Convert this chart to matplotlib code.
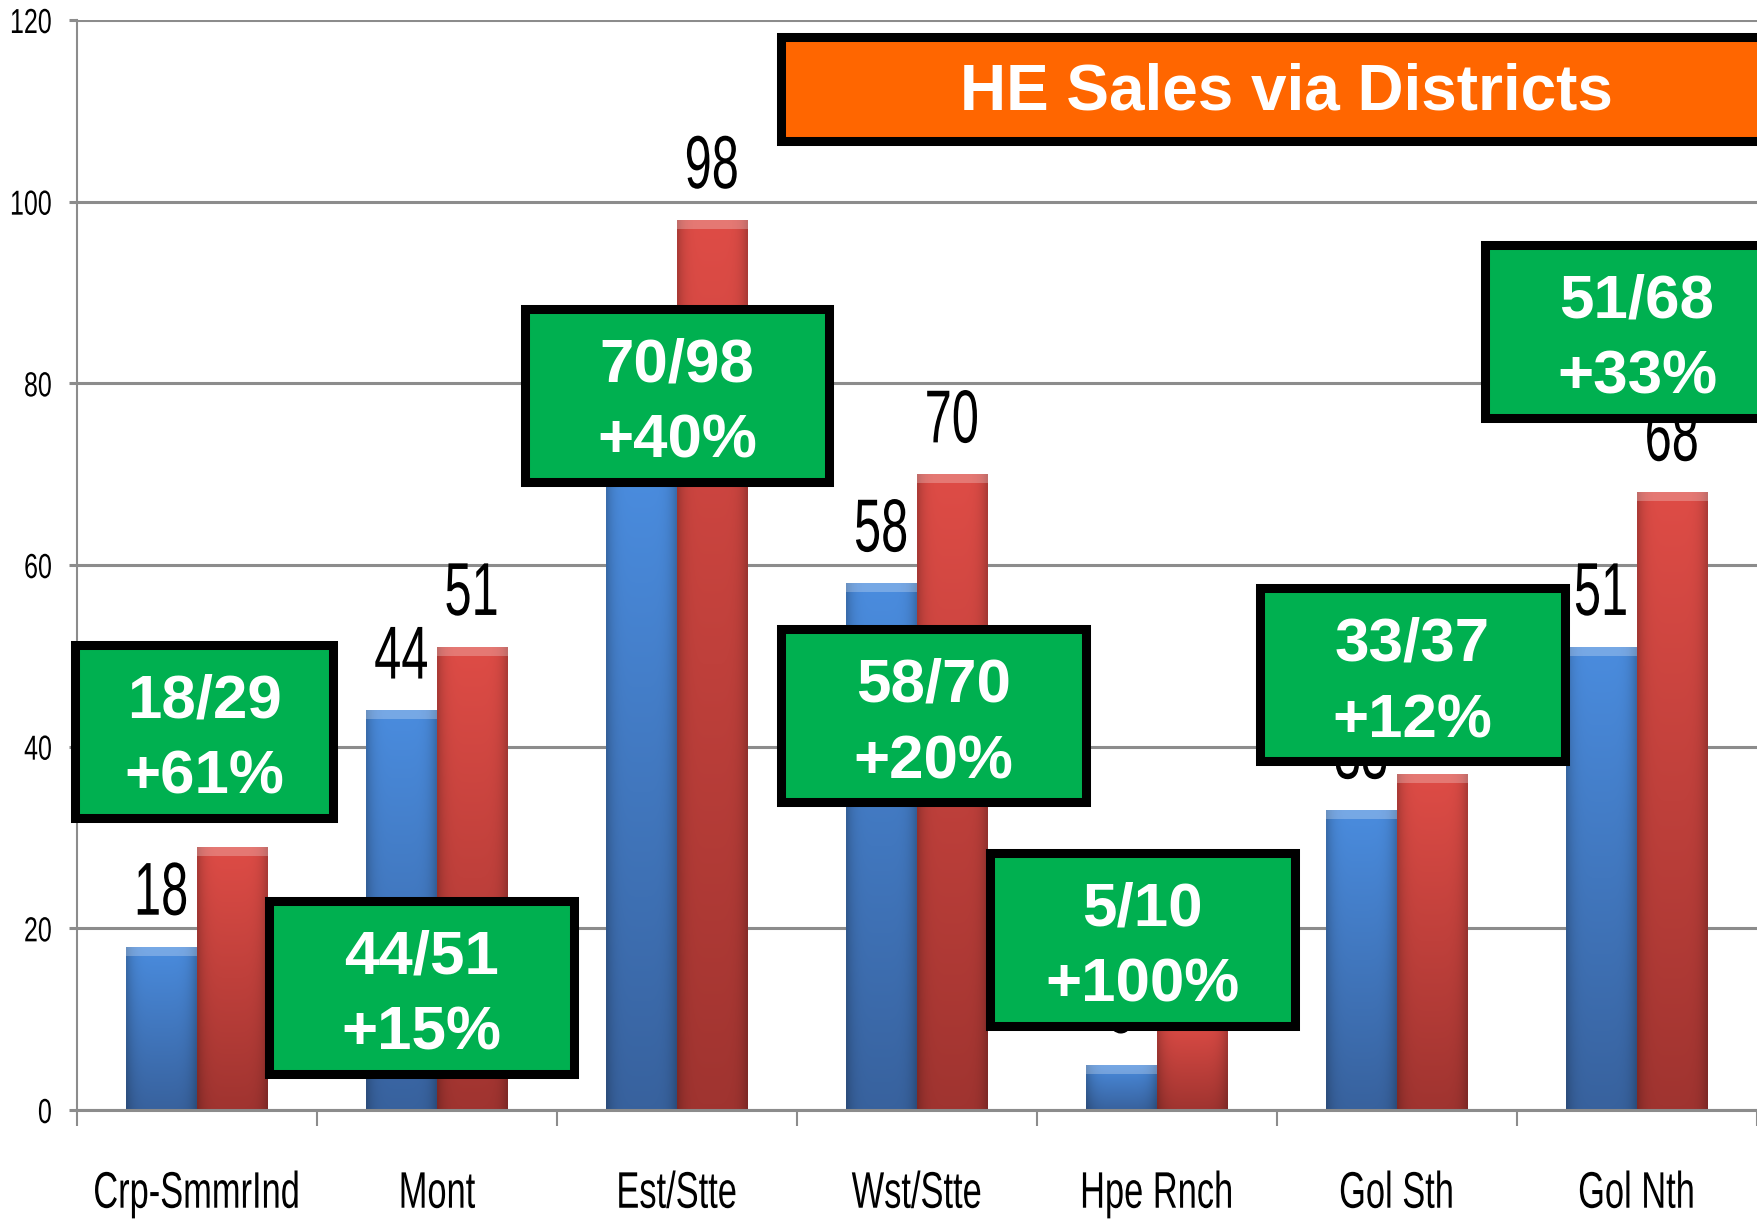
import numpy as np
import matplotlib
matplotlib.use("Agg")
import matplotlib.pyplot as plt
from matplotlib.patches import Rectangle
from matplotlib.patheffects import AbstractPathEffect
from matplotlib.transforms import Affine2D

# data
categories = ["Crp-SmmrInd", "Mont", "Est/Stte", "Wst/Stte", "Hpe Rnch", "Gol Sth", "Gol Nth"]
before = [18, 44, 70, 58, 5, 33, 51]
after = [29, 51, 98, 70, 10, 37, 68]
growth = [61, 15, 40, 20, 100, 12, 33]
y_ticks = [0, 20, 40, 60, 80, 100, 120]
title = "HE Sales via Districts"

# callout box layout (centre x in category units, centre y in data units)
box_cx = [0.03, 0.935, 2.0, 3.07, 3.94, 5.065, 6.0]
box_cy = [41.7, 13.5, 78.7, 43.4, 18.8, 47.9, 85.7]
box_w = [1.075, 1.27, 1.27, 1.27, 1.27, 1.27, 1.27]
box_h = 19.05

fam = ["Liberation Sans", "DejaVu Sans"]


class Squeeze(AbstractPathEffect):
    """draw text narrower than the font (the chart was stretched tall)"""

    def __init__(self, sx=0.67, anchor="center"):
        super().__init__()
        self.sx = sx
        self.anchor = anchor

    def draw_path(self, renderer, gc, tpath, affine, rgbFace=None):
        if len(tpath.vertices) == 0:
            return
        xs = affine.transform(tpath.vertices)[:, 0]
        x0 = xs.max() if self.anchor == "right" else (xs.min() + xs.max()) / 2
        aff = affine + Affine2D().translate(-x0, 0).scale(self.sx, 1).translate(x0, 0)
        renderer.draw_path(gc, tpath, aff, rgbFace)


fig = plt.figure(figsize=(17.58, 12.19), dpi=100)
ax = fig.add_axes([77 / 1758, 109 / 1219, 1680 / 1758, 1090 / 1219])

x = np.arange(len(categories))
w = 0.294
grid_c = "#8c8c8c"

ax.yaxis.grid(True, color=grid_c, linewidth=2.2, zorder=0)
ax.set_axisbelow(True)

bars_b = ax.bar(x - w / 2, before, w, color="#3f7bc8", zorder=2)
bars_r = ax.bar(x + w / 2, after, w, color="#c8403c", zorder=2)


def shade(bar, top, bot):
    # fake the glossy 3d look of the office chart
    x0, bw, h = bar.get_x(), bar.get_width(), bar.get_height()
    v = np.linspace(0, 1, 80)[:, None, None]
    u = np.linspace(-1, 1, 40)[None, :, None]
    top = np.array(top)[None, None, :] / 255
    bot = np.array(bot)[None, None, :] / 255
    img = top * (1 - v) + bot * v
    img = img * (1 - 0.22 * np.abs(u) ** 5)
    img = np.clip(img, 0, 1)
    im = ax.imshow(img, extent=(x0, x0 + bw, 0, h), origin="upper",
                   aspect="auto", zorder=2.1, interpolation="bilinear")
    im.set_clip_path(bar)
    ax.add_patch(Rectangle((x0, h - 1.0), bw, 1.0, color="white", alpha=0.25,
                           linewidth=0, zorder=2.2))


for b in bars_b:
    shade(b, (74, 140, 222), (56, 98, 158))
for b in bars_r:
    shade(b, (222, 76, 70), (160, 52, 48))

# value labels
for xi, v in zip(x, before):
    ax.text(xi - w / 2, v + 3.5, str(v), ha="center", va="baseline", fontsize=54,
            family=fam, color="black", zorder=3, path_effects=[Squeeze(0.65)])
for xi, v in zip(x, after):
    ax.text(xi + w / 2, v + 3.5, str(v), ha="center", va="baseline", fontsize=54,
            family=fam, color="black", zorder=3, path_effects=[Squeeze(0.65)])

# green callouts
for i in range(len(categories)):
    cx, cy, bw = box_cx[i], box_cy[i], box_w[i]
    ax.add_patch(Rectangle((cx - bw / 2, cy - box_h / 2), bw, box_h,
                           facecolor="#00b050", edgecolor="black",
                           linewidth=6.5, clip_on=False, zorder=5))
    ax.text(cx, cy + 1.54, f"{before[i]}/{after[i]}", ha="center", va="baseline",
            fontsize=44.6, fontweight="bold", family=fam, color="white",
            zorder=6, clip_on=False)
    ax.text(cx, cy - 6.85, f"+{growth[i]}%", ha="center", va="baseline",
            fontsize=44.6, fontweight="bold", family=fam, color="white",
            zorder=6, clip_on=False)

# title banner
ax.add_patch(Rectangle((2.433, 112.4 - 5.72), 4.21, 11.45, facecolor="#ff6600",
                       edgecolor="black", linewidth=6.5, clip_on=False, zorder=5))
ax.text(2.433 + 4.21 / 2, 110.2, title, ha="center", va="baseline",
        fontsize=46, fontweight="bold", family=fam, color="white", zorder=6,
        clip_on=False)

ax.set_xlim(-0.5, 6.5)
ax.set_ylim(0, 120)
ax.set_yticks(y_ticks)
ylabs = ax.set_yticklabels([str(t) for t in y_ticks], family=fam, fontsize=25)
for lab in ylabs:
    lab.set_path_effects([Squeeze(0.72, "right")])
ax.set_xticks(x)
xlabs = ax.set_xticklabels(categories, family=fam, fontsize=37)
for lab in xlabs:
    lab.set_path_effects([Squeeze(0.67)])
ax.set_xticks(np.arange(-0.5, 7, 1), minor=True)
ax.tick_params(axis="x", which="major", length=0, pad=43)
ax.tick_params(axis="x", which="minor", length=11.5, width=1.5, color=grid_c)
ax.tick_params(axis="y", length=5.8, width=2.2, color=grid_c, pad=12)

for s in ["top", "right"]:
    ax.spines[s].set_visible(False)
ax.spines["left"].set_color(grid_c)
ax.spines["left"].set_linewidth(1.5)
ax.spines["bottom"].set_color(grid_c)
ax.spines["bottom"].set_linewidth(2.2)

fig.savefig("out.png", dpi=100)
